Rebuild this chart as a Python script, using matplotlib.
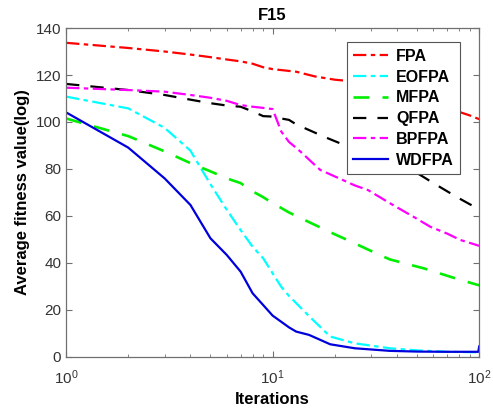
import matplotlib
matplotlib.use("Agg")
import matplotlib.pyplot as plt
from matplotlib.ticker import LogLocator, NullFormatter, MultipleLocator

plt.rcParams['font.family'] = ['Liberation Sans', 'DejaVu Sans']

# Convergence curves (average fitness value vs. iteration)
it_fpa = [1, 2, 3, 4, 5, 6, 7, 8, 9, 10, 13, 16, 20, 25, 30, 40, 50, 60, 70, 80, 90, 100]
fpa = [133.7, 131.5, 130.0, 128.7, 127.6, 126.6, 125.8, 124.8, 123.3, 122.5, 121.4,
       119.4, 118.0, 117.2, 115.8, 113.0, 110.5, 108.2, 106.2, 104.3, 102.8, 101.2]

it_eofpa = [1, 2, 3, 4, 5, 6, 7, 8, 9, 10, 11, 12, 15, 19, 25, 37, 50, 70, 100]
eofpa = [110.8, 105.8, 97.5, 87.8, 73.5, 62.6, 54.0, 46.9, 42.0, 35.6, 29.9, 26.0,
         17.4, 8.7, 5.8, 3.7, 2.8, 2.2, 2.0]

it_mfpa = [1, 2, 3, 4, 5, 6, 7, 8, 9, 10, 12, 15, 20, 23, 33, 37, 54, 81, 100]
mfpa = [101.5, 94.0, 87.5, 82.5, 79.0, 76.0, 74.0, 70.5, 68.0, 65.5, 61.5, 57.4,
        52.2, 49.8, 43.4, 41.5, 37.7, 32.8, 30.5]

it_qfpa = [1, 2, 3, 4, 5, 6, 7, 8, 9, 10, 11, 12, 13, 18, 24, 30, 40, 50, 60, 70, 80, 90, 100]
qfpa = [116.2, 113.6, 111.5, 109.5, 108.0, 107.0, 106.5, 104.5, 102.5, 102.3, 101.5,
        100.9, 99.0, 93.5, 89.0, 85.5, 81.0, 78.3, 74.0, 70.5, 67.5, 65.0, 63.0]

it_bpfpa = [1, 2, 3, 4, 5, 6, 7, 8, 9, 10, 11, 12, 13, 14, 15, 17, 21, 25, 29, 37,
            45, 48, 58, 70, 81, 100]
bpfpa = [114.6, 113.6, 112.9, 111.5, 110.3, 109.0, 107.2, 106.5, 106.0, 105.5, 96.0,
         91.5, 89.0, 86.5, 84.0, 79.6, 76.0, 73.0, 71.0, 65.4, 61.1, 59.7, 55.4, 52.5,
         49.8, 47.3]

it_wdfpa = [1, 2, 3, 4, 5, 6, 7, 8, 9, 10, 11, 12, 13, 15, 19, 25, 37, 50, 70, 99, 100]
wdfpa = [104.1, 89.1, 76.0, 64.7, 50.5, 43.4, 36.3, 27.1, 22.1, 17.6, 15.0, 12.6,
         10.8, 9.4, 5.4, 3.7, 2.6, 2.3, 2.2, 2.2, 4.5]

fig = plt.figure(figsize=(4.93, 4.18), dpi=100)
ax = fig.add_axes([0.134, 0.146, 0.838, 0.787])

lw = 1.6
ax.plot(it_fpa, fpa, color='#ff0000', lw=lw, dashes=(6, 2, 2, 2), label='FPA')
ax.plot(it_eofpa, eofpa, color='#00ffff', lw=lw, dashes=(6, 2, 2, 2), label='EOFPA')
ax.plot(it_mfpa, mfpa, color='#00ee00', lw=lw + 0.3, dashes=(6, 5), label='MFPA')
ax.plot(it_qfpa, qfpa, color='#000000', lw=lw, dashes=(6, 5), label='QFPA')
ax.plot(it_bpfpa, bpfpa, color='#ff00ff', lw=lw, dashes=(6, 2, 2, 2), label='BPFPA')
ax.plot(it_wdfpa, wdfpa, color='#0000dd', lw=lw, label='WDFPA')

ax.set_xscale('log')
ax.set_xlim(1, 100)
ax.set_ylim(0, 140)
ax.yaxis.set_major_locator(MultipleLocator(20))
ax.xaxis.set_major_locator(LogLocator(base=10, numticks=10))
ax.xaxis.set_minor_locator(LogLocator(base=10, subs=range(2, 10), numticks=20))
ax.xaxis.set_minor_formatter(NullFormatter())

spine_col = '#707070'
for s in ax.spines.values():
    s.set_color(spine_col)
    s.set_linewidth(0.9)
ax.tick_params(axis='both', which='both', direction='in', top=True, right=True,
               colors=spine_col, labelcolor='#333333', labelsize=11)
ax.tick_params(axis='both', which='major', length=4)
ax.tick_params(axis='x', which='minor', length=2.5)
ax.tick_params(axis='x', which='major', pad=8)

ax.set_title('F15', fontsize=12, fontweight='bold', pad=6)
ax.set_xlabel('Iterations', fontsize=12, fontweight='bold', labelpad=4)
ax.set_ylabel('Average fitness value(log)', fontsize=12, fontweight='bold', labelpad=4)

leg = ax.legend(loc='upper right', bbox_to_anchor=(0.954, 0.956), borderaxespad=0,
                fontsize=11.5, frameon=True, fancybox=False, edgecolor='#555555',
                framealpha=1.0, handlelength=2.2, labelspacing=0.36, borderpad=0.4,
                handletextpad=0.5)
leg.get_frame().set_linewidth(0.8)
for t in leg.get_texts():
    t.set_fontweight('bold')

fig.savefig('out.png', dpi=100, facecolor='white')
